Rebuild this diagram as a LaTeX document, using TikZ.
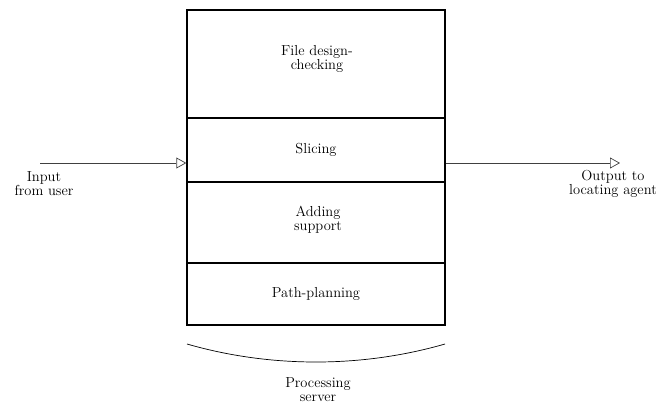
\documentclass[tikz,border=0pt]{standalone}
\usepackage{amsmath}
\usepackage{tikz}
\tikzset{>=latex}
\usetikzlibrary{arrows.meta,positioning,calc}

\tikzset{
  stage/.style={draw=black, line width=1.4pt, minimum width=258pt, inner sep=0pt, align=center},
  flow/.style={draw=black!75, line width=0.7pt, -{Triangle[open,length=10pt,width=11pt,line width=0.7pt]}},
  lbl/.style={align=center, inner sep=0pt, font=\fontsize{14.5}{14}\selectfont}
}

\begin{document}
\begin{tikzpicture}[x=1pt,y=-1pt]
            \useasboundingbox (0,0) rectangle (661,412);

            % server stages, top to bottom
            \node[stage, minimum height=108pt] (check) at (316,64) {};
            \node[stage, minimum height=64pt] (slice) at (316,150) {};
            \node[stage, minimum height=81pt] (support) at (316,222.5) {};
            \node[stage, minimum height=62pt] (path) at (316,294) {};

            \node[lbl] (checkT) at (317,59) {File design-\\checking};
            \node[lbl] (sliceT) at (slice) {Slicing};
            \node[lbl] (supportT) at (318,220) {Adding\\support};
            \node[lbl] (pathT) at (path) {Path-planning};

            % input and output
            \coordinate (inStart) at (40,163);
            \coordinate (outEnd) at (620,163);
            \draw[flow] (inStart) -- (inStart -| slice.west);
            \draw[flow] (inStart -| slice.east) -- (outEnd);
            \node[lbl] (inT) at (44,184) {Input\\from user};
            \node[lbl] (outT) at (613,184) {Output to\\locating agent};

            % brace under the server
            \draw[line width=0.7pt] (187,344) .. controls (270,368) and (362,368) .. (445,344);
            \node[lbl] (serverT) at (318,390) {Processing\\server};
        \end{tikzpicture}
\end{document}
